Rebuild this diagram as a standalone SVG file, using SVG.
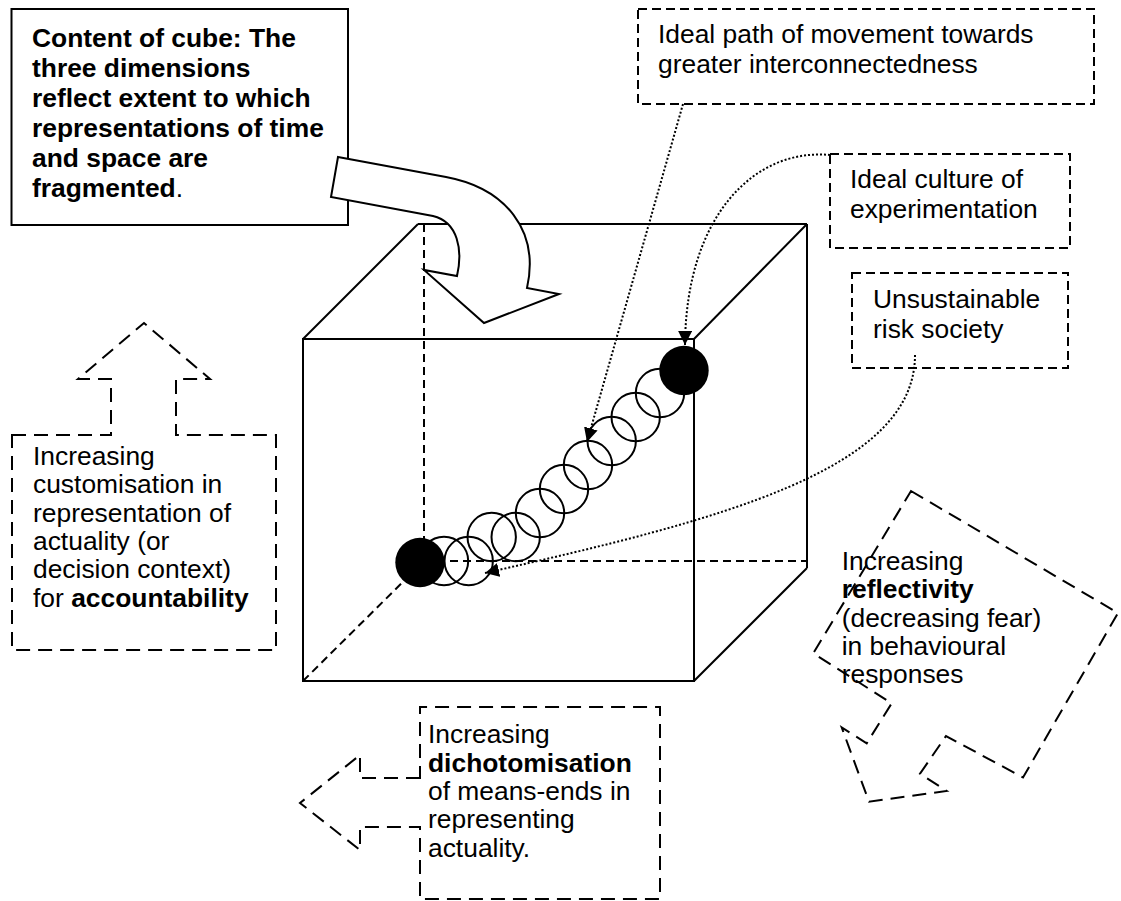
<svg xmlns="http://www.w3.org/2000/svg" width="1121" height="901" viewBox="0 0 1121 901">
  <style>
    text { font-family: "Liberation Sans", Arial, sans-serif; font-size: 26.4px; fill: #000; }
    .b { font-weight: bold; }
    .solid { fill: none; stroke: #000; stroke-width: 2; }
    .hidden { fill: none; stroke: #000; stroke-width: 2; stroke-dasharray: 8 5; }
    .note { fill: #fff; stroke: #000; stroke-width: 2; stroke-dasharray: 9 5; }
    .big { fill: none; stroke: #000; stroke-width: 2; stroke-dasharray: 14 8; }
    .dot { fill: none; stroke: #000; stroke-width: 2; stroke-dasharray: 2 2; }
    .ring { fill: none; stroke: #000; stroke-width: 2; }
    .ball { fill: #000; }
  </style>
  <defs>
    <marker id="head" markerUnits="userSpaceOnUse" markerWidth="15" markerHeight="15" refX="14" refY="7" orient="auto">
      <path d="M0,0 L14,7 L0,14 Z" fill="#000"/>
    </marker>
  </defs>

  <rect width="1121" height="901" fill="#fff"/>

  <!-- cube -->
  <g id="cube">
    <line class="hidden" x1="424" y1="224" x2="424" y2="561"/>
    <line class="hidden" x1="424" y1="561" x2="807" y2="561"/>
    <line class="hidden" x1="303" y1="681" x2="424" y2="561"/>
    <rect class="solid" x="303" y="339" width="391" height="342"/>
    <line class="solid" x1="303" y1="339" x2="418" y2="224"/>
    <line class="solid" x1="418" y1="224" x2="807" y2="224"/>
    <line class="solid" x1="694" y1="339" x2="807" y2="224"/>
    <line class="solid" x1="807" y1="224" x2="807" y2="568"/>
    <line class="solid" x1="694" y1="681" x2="807" y2="568"/>
  </g>

  <!-- chain of states along the diagonal -->
  <g id="path-chain">
    <circle class="ring" cx="444" cy="561" r="24.2"/>
    <circle class="ring" cx="468.7" cy="561" r="24.2"/>
    <circle class="ring" cx="491.7" cy="537" r="24.2"/>
    <circle class="ring" cx="515.7" cy="537" r="24.2"/>
    <circle class="ring" cx="540" cy="513" r="24.2"/>
    <circle class="ring" cx="564" cy="489" r="24.2"/>
    <circle class="ring" cx="588" cy="465" r="24.2"/>
    <circle class="ring" cx="611.7" cy="441" r="24.2"/>
    <circle class="ring" cx="635.7" cy="417" r="24.2"/>
    <circle class="ring" cx="660" cy="393" r="24.2"/>
    <circle class="ball" cx="420" cy="562.5" r="24.7"/>
    <circle class="ball" cx="684" cy="370.5" r="24.7"/>
  </g>

  <!-- content box with curved block arrow into the cube -->
  <g id="content-box">
    <rect x="11.5" y="9" width="336.5" height="216" fill="#fff" stroke="#000" stroke-width="2"/>
    <text class="b" x="32" y="46.7">Content of cube: The</text>
    <text class="b" x="32" y="76.7">three dimensions</text>
    <text class="b" x="32" y="106.7">reflect extent to which</text>
    <text class="b" x="32" y="136.7">representations of time</text>
    <text class="b" x="32" y="166.7">and space are</text>
    <text x="32" y="196.7"><tspan class="b">fragmented</tspan>.</text>
  </g>
  <g id="content-arrow">
    <path d="M338,157 L446,177 C505,188 540,230 527,288 L559,294 L484,323 L424,270 L457,276 C463,250 458,222 433,216 L331,197 Z" fill="#fff" stroke="#000" stroke-width="2" stroke-linejoin="miter"/>
  </g>

  <!-- label boxes -->
  <g id="ideal-path">
    <rect class="note" x="638" y="9" width="456" height="95"/>
    <text x="658" y="43.3">Ideal path of movement towards</text>
    <text x="658" y="73.3">greater interconnectedness</text>
  </g>
  <g id="ideal-culture">
    <rect class="note" x="830" y="154" width="240" height="94"/>
    <text x="850" y="188.3">Ideal culture of</text>
    <text x="850" y="218.3">experimentation</text>
  </g>
  <g id="risk-society">
    <rect class="note" x="852" y="273" width="216" height="95"/>
    <text x="873" y="308">Unsustainable</text>
    <text x="873" y="338">risk society</text>
  </g>

  <!-- axis arrows -->
  <g id="axis-accountability">
    <path class="big" d="M12,435 L111,435 L111,379 L78,379 L144,323 L210,379 L176,379 L176,435 L276,435 L276,650 L12,650 Z"/>
    <text x="33" y="465">Increasing</text>
    <text x="33" y="493.3">customisation in</text>
    <text x="33" y="521.7">representation of</text>
    <text x="33" y="550">actuality (or</text>
    <text x="33" y="578.3">decision context)</text>
    <text x="33" y="606.7">for <tspan class="b">accountability</tspan></text>
  </g>
  <g id="axis-dichotomisation">
    <path class="big" d="M420,778 L360,778 L360,755 L300,803 L360,850 L360,827 L420,827 L420,899 L660,899 L660,707 L420,707 Z"/>
    <text x="428" y="743.3">Increasing</text>
    <text class="b" x="428" y="771.7">dichotomisation</text>
    <text x="428" y="800">of means-ends in</text>
    <text x="428" y="828.3">representing</text>
    <text x="428" y="856.7">actuality.</text>
  </g>
  <g id="axis-reflectivity">
    <path class="big" d="M911,491 L1118,613 L1023,777.5 L946,736 L920,773.7 L946.7,791 L869,801.7 L841.7,727.5 L866.7,743.3 L891.7,703.3 L813.3,653.3 Z"/>
    <text x="841.7" y="570">Increasing</text>
    <text class="b" x="841.7" y="598.3">reflectivity</text>
    <text x="841.7" y="626.7">(decreasing fear)</text>
    <text x="841.7" y="655">in behavioural</text>
    <text x="841.7" y="683.3">responses</text>
  </g>

  <!-- connectors -->
  <g id="connectors">
    <path class="dot" d="M683,104 L587,442" marker-end="url(#head)"/>
    <path class="dot" d="M830,155 C755,148 686,215 685,345" marker-end="url(#head)"/>
    <path class="dot" d="M915,355 C915,470 720,520 485,573" marker-end="url(#head)"/>
  </g>
</svg>
